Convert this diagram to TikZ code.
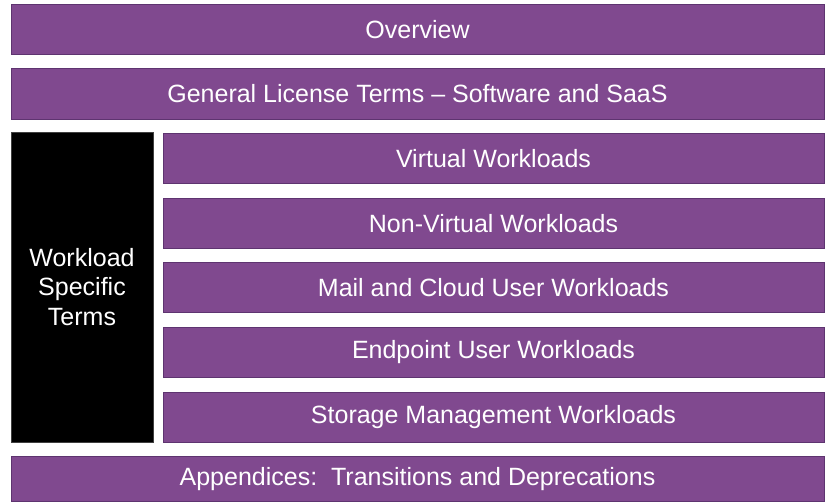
\documentclass[tikz,border=0pt]{standalone}
\usepackage{fontspec}
\setmainfont{Liberation Sans}
\definecolor{vpurple}{HTML}{80498F}
\definecolor{vborder}{HTML}{5E3470}
\begin{document}
\begin{tikzpicture}[x=1pt,y=-1pt,
  pbox/.style={fill=vpurple,draw=vborder,line width=0.8pt},
  bbox/.style={fill=black,draw=black!75,line width=0.8pt},
  lbl/.style={text=white,font=\fontsize{25}{29.5}\selectfont,inner sep=0pt,align=center}]
\useasboundingbox (0,0) rectangle (827,502);
\draw[pbox] (11,4) rectangle (824,54);
\node[lbl] (ov) at (417.5,29.5) {Overview};
\draw[pbox] (11,68) rectangle (824,119);
\node[lbl] (gl) at (417.5,94) {General License Terms -- Software and SaaS};
\draw[bbox] (11,132) rectangle (153,442);
\node[lbl] (ws) at (82,287) {Workload\\Specific\\Terms};
\draw[pbox] (163,133) rectangle (824,183);
\node[lbl] (vw) at (493.5,158.5) {Virtual Workloads};
\draw[pbox] (163,198) rectangle (824,248);
\node[lbl] (nv) at (493.5,223.5) {Non-Virtual Workloads};
\draw[pbox] (163,262) rectangle (824,312);
\node[lbl] (mc) at (493.5,287.5) {Mail and Cloud User Workloads};
\draw[pbox] (163,327) rectangle (824,377);
\node[lbl] (ep) at (493.5,352.5) {Endpoint User Workloads};
\draw[pbox] (163,392) rectangle (824,442);
\node[lbl] (sm) at (493.5,417.5) {Storage Management Workloads};
\draw[pbox] (11,456) rectangle (824,501);
\node[lbl] (ap) at (417.5,479.5) {Appendices:\ \ Transitions and Deprecations};
\end{tikzpicture}
\end{document}
